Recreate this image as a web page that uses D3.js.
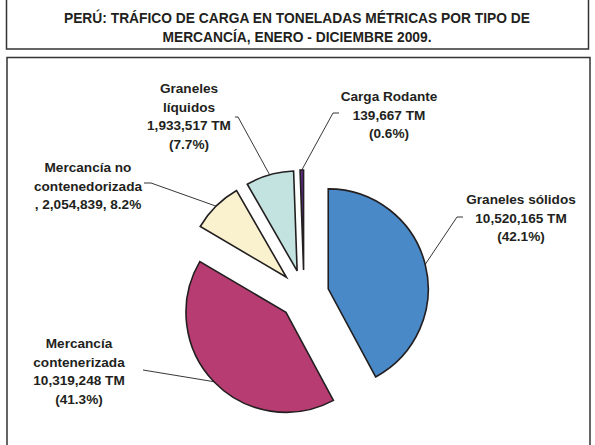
<!DOCTYPE html>
<html>
<head>
<meta charset="utf-8">
<script src="https://cdn.jsdelivr.net/npm/d3@7"></script>
<style>
  body { margin: 0; background: #fff; }
  text { font-family: "Liberation Sans", Arial, sans-serif; font-weight: bold; fill: #231f20; }
</style>
</head>
<body>
<div id="wrapper"></div>
<script>
// data
const categories = [
  "Graneles sólidos",
  "Mercancía contenerizada",
  "Mercancía no contenedorizada",
  "Graneles líquidos",
  "Carga Rodante",
]
const values = [10520165, 10319248, 2054839, 1933517, 139667]
const percents = [42.1, 41.3, 8.2, 7.7, 0.6]
// how each category name breaks into lines in the labels
const nameLines = [
  ["Graneles sólidos"],
  ["Mercancía", "contenerizada"],
  ["Mercancía no", "contenedorizada"],
  ["Graneles", "líquidos"],
  ["Carga Rodante"],
]
const labelStyles = ["tm", "tm", "inline", "tm", "tm"]
const titleLines = [
  "PERÚ: TRÁFICO DE CARGA EN TONELADAS MÉTRICAS POR TIPO DE",
  "MERCANCÍA, ENERO - DICIEMBRE 2009.",
]

async function drawPie() {

  // 1. Access data
  const dataset = categories.map((c, i) => ({
    name: c,
    value: values[i],
    pct: percents[i],
    lines: nameLines[i],
    style: labelStyles[i],
  }))
  const valueAccessor = d => d.value

  // 2. Chart dimensions
  const dimensions = {
    width: 595,
    height: 445,
    radius: 100,
    explode: 25,
    center: [304, 295],
  }

  const colors = ["#4a89c8", "#b73c71", "#faf2ce", "#c2e3df", "#5e2a84"]

  // label placement: text centre, first baseline, leader end and elbow
  const labelLayout = [
    {x: 521, y: 204, end: [463, 217], elbow: [457, 217]},
    {x: 79, y: 348, end: [143, 370], elbow: [143, 370]},
    {x: 88, y: 172, end: [144, 183], elbow: [151, 183]},
    {x: 189, y: 93, end: [235, 117], elbow: [238, 117]},
    {x: 389, y: 101, end: [339, 113], elbow: [333, 113]},
  ]
  const lineHeight = 18.5

  // 3. Draw canvas
  const wrapper = d3.select("#wrapper")
    .append("svg")
      .attr("width", dimensions.width)
      .attr("height", dimensions.height)

  // title box
  wrapper.append("rect")
      .attr("x", 6.5)
      .attr("y", -2)
      .attr("width", 582)
      .attr("height", 51)
      .attr("fill", "none")
      .attr("stroke", "#333")
      .attr("stroke-width", 1.5)

  wrapper.append("g")
    .selectAll("text")
    .data(titleLines)
    .join("text")
      .attr("x", 297)
      .attr("y", (d, i) => 23 + i * 19)
      .attr("text-anchor", "middle")
      .style("font-size", "13.8px")
      .text(d => d)

  // chart area box
  wrapper.append("rect")
      .attr("x", 7)
      .attr("y", 57.5)
      .attr("width", 583)
      .attr("height", 400)
      .attr("fill", "none")
      .attr("stroke", "#333")
      .attr("stroke-width", 1.5)

  const bounds = wrapper.append("g")
      .attr("transform", `translate(${dimensions.center[0]}, ${dimensions.center[1]})`)

  // 4. Pie layout
  const pieGenerator = d3.pie()
    .value(valueAccessor)
    .sort(null)

  const arcs = pieGenerator(dataset)

  const arcGenerator = d3.arc()
    .innerRadius(0)
    .outerRadius(dimensions.radius)

  const midAngle = d => (d.startAngle + d.endAngle) / 2
  const offset = (d, dist) => [
    Math.sin(midAngle(d)) * dist,
    -Math.cos(midAngle(d)) * dist,
  ]

  // 5. Draw data
  bounds.selectAll("path.slice")
    .data(arcs)
    .join("path")
      .attr("class", "slice")
      .attr("d", arcGenerator)
      .attr("transform", d => `translate(${offset(d, dimensions.explode)})`)
      .attr("fill", (d, i) => colors[i])
      .attr("stroke", "#231f20")
      .attr("stroke-width", 1.6)
      .attr("stroke-linejoin", "miter")

  // 6. Labels and leader lines
  const fmt = d3.format(",")
  const labelText = d => d.data.style == "inline"
    ? [...d.data.lines, `, ${fmt(d.data.value)}, ${d.data.pct}%`]
    : [...d.data.lines, `${fmt(d.data.value)} TM`, `(${d.data.pct}%)`]

  const leader = d3.line()

  wrapper.append("g")
    .selectAll("path")
    .data(arcs)
    .join("path")
      .attr("d", (d, i) => {
        const p = offset(d, dimensions.radius + dimensions.explode)
        const start = [p[0] + dimensions.center[0], p[1] + dimensions.center[1]]
        return leader([start, labelLayout[i].elbow, labelLayout[i].end])
      })
      .attr("fill", "none")
      .attr("stroke", "#231f20")
      .attr("stroke-width", 0.9)

  const labels = wrapper.append("g")
    .selectAll("text")
    .data(arcs)
    .join("text")
      .attr("text-anchor", "middle")
      .style("font-size", "13.6px")

  labels.selectAll("tspan")
    .data((d, i) => labelText(d).map(t => ({t, i})))
    .join("tspan")
      .attr("x", d => labelLayout[d.i].x)
      .attr("y", (d, j) => labelLayout[d.i].y + j * lineHeight)
      .text(d => d.t)
}
drawPie()
</script>
</body>
</html>
